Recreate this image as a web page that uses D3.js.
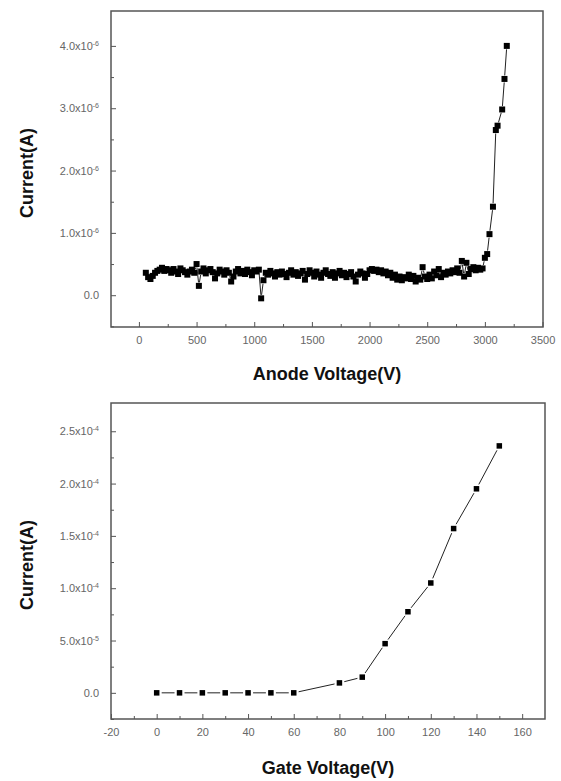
<!DOCTYPE html>
<html>
<head>
<meta charset="utf-8">
<script src="https://cdn.jsdelivr.net/npm/d3@7"></script>
<style>
  body { margin: 0; background: #fff; }
  svg { display: block; font-family: "Liberation Sans", Arial, sans-serif; }
  .tick text { fill: #666; font-size: 11px; font-family: "Liberation Sans", Arial, sans-serif; }
  .tick line { stroke: #555; stroke-width: 1; }
  .ttl { font-weight: bold; font-size: 18px; fill: #111; }
</style>
</head>
<body>
<svg id="chart" width="561" height="781"></svg>
<script>
// Anode voltage sweep (V) and current (A)
const anodeV = [
  60, 80, 100, 120, 140, 160, 180, 200, 220, 240,
  260, 280, 300, 320, 340, 360, 380, 400, 420, 440,
  460, 480, 500, 520, 540, 560, 580, 600, 620, 640,
  660, 680, 700, 720, 740, 760, 780, 800, 820, 840,
  860, 880, 900, 920, 940, 960, 980, 1000, 1020, 1040,
  1060, 1080, 1100, 1120, 1140, 1160, 1180, 1200, 1220, 1240,
  1260, 1280, 1300, 1320, 1340, 1360, 1380, 1400, 1420, 1440,
  1460, 1480, 1500, 1520, 1540, 1560, 1580, 1600, 1620, 1640,
  1660, 1680, 1700, 1720, 1740, 1760, 1780, 1800, 1820, 1840,
  1860, 1880, 1900, 1920, 1940, 1960, 1980, 2000, 2020, 2040,
  2060, 2080, 2100, 2120, 2140, 2160, 2180, 2200, 2220, 2240,
  2260, 2280, 2300, 2320, 2340, 2360, 2380, 2400, 2420, 2440,
  2460, 2480, 2500, 2520, 2540, 2560, 2580, 2600, 2620, 2640,
  2660, 2680, 2700, 2720, 2740, 2760, 2780, 2800, 2820, 2840,
  2860, 2880, 2900, 2920, 2940, 2960, 2980,
  3000, 3020, 3040, 3070, 3095, 3110, 3150, 3170, 3190
];
const anodeI_u = [ // in units of 1e-6 A
  0.36, 0.29, 0.26, 0.31, 0.36, 0.39, 0.41, 0.44, 0.39, 0.42,
  0.40, 0.36, 0.42, 0.38, 0.34, 0.43, 0.40, 0.37, 0.33, 0.38,
  0.41, 0.36, 0.50, 0.15, 0.38, 0.43, 0.35, 0.40, 0.42, 0.37,
  0.27, 0.35, 0.41, 0.38, 0.33, 0.40, 0.36, 0.22, 0.30, 0.38,
  0.42, 0.35, 0.39, 0.34, 0.41, 0.37, 0.32, 0.40, 0.38, 0.41,
  -0.05, 0.24, 0.36, 0.33, 0.39, 0.35, 0.30, 0.37, 0.33, 0.38,
  0.34, 0.29, 0.36, 0.40, 0.33, 0.37, 0.31, 0.35, 0.39, 0.25,
  0.34, 0.40, 0.36, 0.30, 0.38, 0.33, 0.28, 0.36, 0.40, 0.34,
  0.31, 0.37, 0.28, 0.35, 0.39, 0.32, 0.36, 0.29, 0.34, 0.37,
  0.30, 0.22, 0.33, 0.38, 0.35, 0.28, 0.34, 0.40, 0.42, 0.39,
  0.41, 0.37, 0.40, 0.35, 0.38, 0.32, 0.36, 0.28, 0.33, 0.25,
  0.30, 0.24, 0.29, 0.27, 0.33, 0.26, 0.31, 0.22, 0.28, 0.25,
  0.45, 0.30, 0.26, 0.33, 0.27, 0.38, 0.32, 0.42, 0.29, 0.36,
  0.33, 0.38, 0.35, 0.40, 0.37, 0.43, 0.36, 0.55, 0.30, 0.52,
  0.34, 0.42, 0.45, 0.40, 0.44, 0.41, 0.43,
  0.60, 0.66, 0.98, 1.42, 2.65, 2.72, 2.98, 3.47, 4.00
];
const anodeI = anodeI_u.map(v => v * 1e-6);

// Gate voltage (V) and current (A), lower panel
const gateV = [0, 10, 20, 30, 40, 50, 60, 80, 90, 100, 110, 120, 130, 140, 150];
const gateI = [0, 0, 0, 0, 0, 0, 0, 0.95e-5, 1.5e-5, 4.7e-5, 7.75e-5, 1.05e-4, 1.57e-4, 1.95e-4, 2.36e-4];

// tick values
const topXTicks = [0, 500, 1000, 1500, 2000, 2500, 3000, 3500];
const topXMinor = [250, 750, 1250, 1750, 2250, 2750, 3250];
const topYTicks = [0, 1e-6, 2e-6, 3e-6, 4e-6];
const topYMinor = [-0.5e-6, 0.5e-6, 1.5e-6, 2.5e-6, 3.5e-6];
const botXTicks = [-20, 0, 20, 40, 60, 80, 100, 120, 140, 160];
const botXMinor = [-10, 10, 30, 50, 70, 90, 110, 130, 150];
const botYTicks = [0, 5e-5, 1e-4, 1.5e-4, 2e-4, 2.5e-4];
const botYMinor = [-2.5e-5, 2.5e-5, 7.5e-5, 1.25e-4, 1.75e-4, 2.25e-4];

const svg = d3.select('#chart');

function sciLabel(sel) {
  sel.each(function (d) {
    const t = d3.select(this).text('');
    if (d === 0) { t.text('0.0'); return; }
    const [m, e] = d.toExponential(1).split('e');
    t.append('tspan').text(m + 'x10');
    t.append('tspan').attr('dy', '-0.55em').attr('font-size', '7px').text(String(+e));
  });
}

function panel(cfg) {
  const { left, top, right, bottom } = cfg.box;
  const x = d3.scaleLinear().domain(cfg.xDomain).range([left, right]);
  const y = d3.scaleLinear().domain(cfg.yDomain).range([bottom, top]);
  const g = svg.append('g');

  // x axis, ticks inward
  g.append('g').attr('transform', `translate(0,${bottom})`)
    .call(d3.axisBottom(x).tickValues(cfg.xTicks).tickSize(-5).tickPadding(9).tickFormat(d => String(d)))
    .call(a => a.select('.domain').remove());
  g.append('g').attr('transform', `translate(0,${bottom})`)
    .call(d3.axisBottom(x).tickValues(cfg.xMinor).tickSize(-3).tickFormat(''))
    .call(a => a.select('.domain').remove());

  // y axis
  g.append('g').attr('transform', `translate(${left},0)`)
    .call(d3.axisLeft(y).tickValues(cfg.yTicks).tickSize(-5).tickPadding(12))
    .call(a => a.select('.domain').remove())
    .selectAll('.tick text').call(sciLabel);
  g.append('g').attr('transform', `translate(${left},0)`)
    .call(d3.axisLeft(y).tickValues(cfg.yMinor).tickSize(-3).tickFormat(''))
    .call(a => a.select('.domain').remove());

  // frame
  g.append('rect')
    .attr('x', left).attr('y', top)
    .attr('width', right - left).attr('height', bottom - top)
    .attr('fill', 'none').attr('stroke', '#555').attr('stroke-width', 1.5);

  // connecting line with small gaps at each symbol (Origin style)
  const pts = cfg.xs.map((v, i) => [x(v), y(cfg.ys[i])]);
  const gap = cfg.gap;
  const segs = [];
  for (let i = 0; i < pts.length - 1; i++) {
    const [x0, y0] = pts[i], [x1, y1] = pts[i + 1];
    const len = Math.hypot(x1 - x0, y1 - y0);
    if (len <= gap * 2) continue;
    const ux = (x1 - x0) / len, uy = (y1 - y0) / len;
    segs.push([x0 + ux * gap, y0 + uy * gap, x1 - ux * gap, y1 - uy * gap]);
  }
  g.append('g').selectAll('line').data(segs).join('line')
    .attr('x1', d => d[0]).attr('y1', d => d[1])
    .attr('x2', d => d[2]).attr('y2', d => d[3])
    .attr('stroke', '#222').attr('stroke-width', 1);

  const s = cfg.size;
  g.append('g').selectAll('rect').data(pts).join('rect')
    .attr('x', d => d[0] - s / 2).attr('y', d => d[1] - s / 2)
    .attr('width', s).attr('height', s).attr('fill', '#000');

  // titles
  g.append('text').attr('class', 'ttl')
    .attr('x', (left + right) / 2).attr('y', cfg.xTitleY)
    .attr('text-anchor', 'middle').text(cfg.xTitle);
  g.append('text').attr('class', 'ttl')
    .attr('transform', `translate(33,${(top + bottom) / 2 + 4}) rotate(-90)`)
    .attr('text-anchor', 'middle').text('Current(A)');
}

panel({
  box: { left: 111, top: 11, right: 543, bottom: 327 },
  xDomain: [-242, 3504], yDomain: [-0.51e-6, 4.56e-6],
  xTicks: topXTicks, xMinor: topXMinor, yTicks: topYTicks, yMinor: topYMinor,
  xs: anodeV, ys: anodeI, size: 6, gap: 3.5,
  xTitle: 'Anode Voltage(V)', xTitleY: 380
});

panel({
  box: { left: 111, top: 403, right: 545, bottom: 719 },
  xDomain: [-20, 170], yDomain: [-2.5e-5, 2.77e-4],
  xTicks: botXTicks, xMinor: botXMinor, yTicks: botYTicks, yMinor: botYMinor,
  xs: gateV, ys: gateI, size: 5.5, gap: 5,
  xTitle: 'Gate Voltage(V)', xTitleY: 774
});
</script>
</body>
</html>
